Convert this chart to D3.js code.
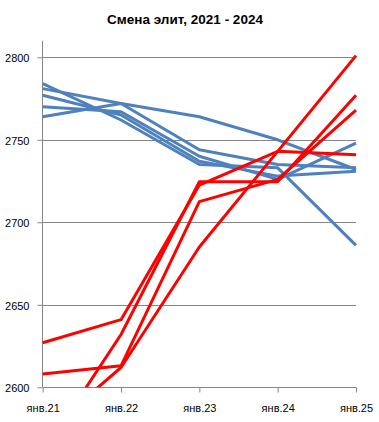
<!DOCTYPE html>
<html>
<head>
<meta charset="utf-8">
<script src="https://cdn.jsdelivr.net/npm/d3@7"></script>
<style>
  html, body { margin: 0; padding: 0; background: #fff; }
  svg { display: block; }
</style>
</head>
<body>
<svg id="chart" width="379" height="422"></svg>
<script>
const title = "Смена элит, 2021 - 2024";
const categories = ["янв.21", "янв.22", "янв.23", "янв.24", "янв.25"];
const yTicks = [2600, 2650, 2700, 2750, 2800];

const blue1 = [2781, 2772, 2764, 2750, 2732];
const blue2 = [2764, 2772, 2744, 2735, 2733];
const blue3 = [2784, 2762, 2735, 2733, 2686];
const blue4 = [2777, 2765, 2737, 2728, 2731];
const blue5 = [2770, 2767, 2740, 2726, 2748];

const red1 = [2627, 2641, 2722.6, 2743, 2741];
const red2 = [2560, 2632, 2724.6, 2724.6, 2777];
const red3 = [2608, 2613, 2712.5, 2726, 2768];
const red4 = [2571, 2612, 2685, 2743, 2801];

const blueSeries = [blue1, blue2, blue3, blue4, blue5];
const redSeries = [red1, red2, red3, red4];

(function () {
const svg = d3.select("#chart");
const pL = 42.7, pR = 356, pT = 40.8, pB = 387.3;

const x = d3.scalePoint().domain(categories).range([pL, pR]);
const y = d3.scaleLinear().domain([2600, 2810]).range([pB, pT]);

const gray = "#868686";
const font = "'Liberation Sans', Arial, sans-serif";

// title
svg.append("text")
  .attr("x", 185).attr("y", 24)
  .attr("text-anchor", "middle")
  .attr("font-family", font)
  .attr("font-size", "13.5px")
  .attr("font-weight", "bold")
  .attr("fill", "#000")
  .text(title);

// gridlines
svg.append("g")
  .selectAll("line")
  .data(yTicks.filter(d => d !== 2600))
  .join("line")
  .attr("x1", pL).attr("x2", pR)
  .attr("y1", d => Math.round(y(d)) + 0.5).attr("y2", d => Math.round(y(d)) + 0.5)
  .attr("stroke", gray).attr("stroke-width", 1);

// y axis
const yAxis = d3.axisLeft(y).tickValues(yTicks).tickSize(5).tickPadding(8).tickFormat(d3.format("d"));
const gy = svg.append("g").attr("transform", `translate(${Math.round(pL) - 0.5},0)`).call(yAxis);
gy.select(".domain").attr("stroke", gray).attr("d", `M0,${pT}V${pB}`);
gy.selectAll(".tick line").attr("stroke", gray);
gy.selectAll(".tick text").attr("font-family", font).attr("font-size", "11px").attr("fill", "#000").attr("dy", "0.4em");

// x axis
const xAxis = d3.axisBottom(x).tickSize(5).tickPadding(12);
const gx = svg.append("g").attr("transform", `translate(0,${Math.round(pB) + 0.5})`).call(xAxis);
gx.select(".domain").attr("stroke", gray).attr("d", `M${pL},0H${pR}`);
gx.selectAll(".tick line").attr("stroke", gray);
gx.selectAll(".tick text").attr("font-family", font).attr("font-size", "11px").attr("fill", "#000");

// clip
svg.append("clipPath").attr("id", "plotclip")
  .append("rect").attr("x", pL - 2).attr("y", pT - 3).attr("width", pR - pL + 4).attr("height", pB - pT + 3);

const line = d3.line()
  .x((d, i) => x(categories[i]))
  .y(d => y(d));

const plot = svg.append("g").attr("clip-path", "url(#plotclip)");

plot.selectAll("path.blue")
  .data(blueSeries)
  .join("path")
  .attr("class", "blue")
  .attr("d", line)
  .attr("fill", "none")
  .attr("stroke", "#4F81BD")
  .attr("stroke-width", 3)
  .attr("stroke-linejoin", "round");

plot.selectAll("path.red")
  .data(redSeries)
  .join("path")
  .attr("class", "red")
  .attr("d", line)
  .attr("fill", "none")
  .attr("stroke", "#FF0000")
  .attr("stroke-width", 3)
  .attr("stroke-linejoin", "round");
})();
</script>
</body>
</html>
